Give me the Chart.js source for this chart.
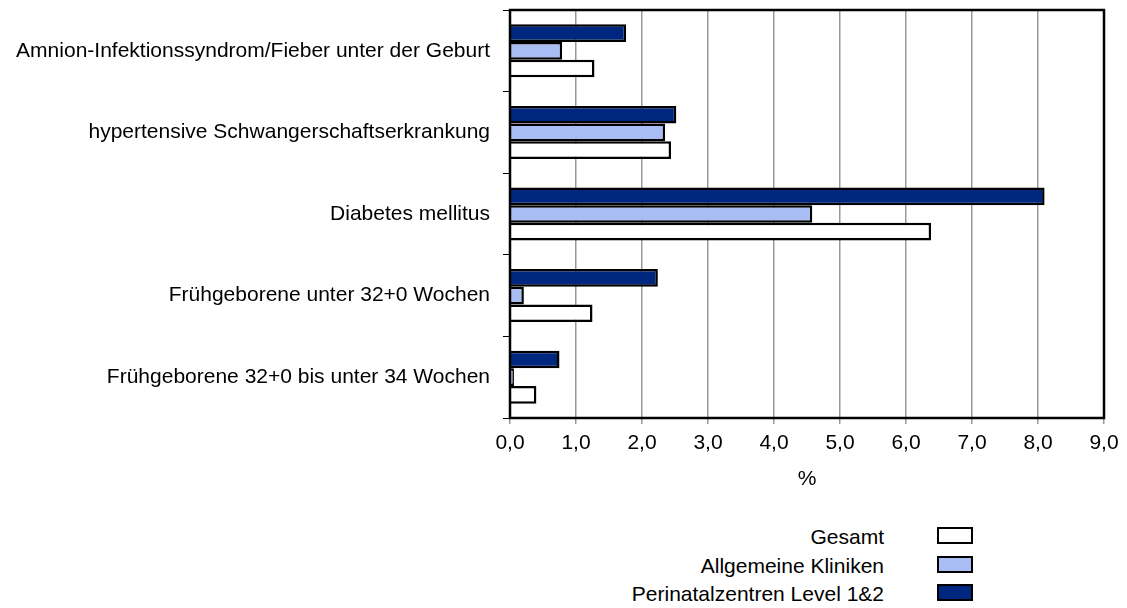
<!DOCTYPE html>
<html>
<head>
<meta charset="utf-8">
<script src="https://cdn.jsdelivr.net/npm/chart.js@4.4.0/dist/chart.umd.min.js"></script>
<style>
body{margin:0;background:#fff;font-family:"Liberation Sans",Arial,sans-serif;}
#wrap{position:absolute;left:0;top:0;width:1127px;height:500px;}
#legende{position:absolute;left:0;top:525px;width:1127px;}
.item{position:relative;height:28.5px;}
.item span{position:absolute;right:243px;top:0;font-size:21px;line-height:24px;color:#000;white-space:nowrap;}
.item i{position:absolute;left:937px;top:2px;width:32px;height:13px;border:2px solid #000;}
</style>
</head>
<body>
<div id="wrap"><canvas id="grafico"></canvas></div>
<div id="legende"></div>
<script>
// ---------------- DADOS ----------------
const kategorien = [
"Amnion-Infektionssyndrom/Fieber unter der Geburt",
"hypertensive Schwangerschaftserkrankung",
"Diabetes mellitus",
"Frühgeborene unter 32+0 Wochen",
"Frühgeborene 32+0 bis unter 34 Wochen"
]
const perinatal = [1.76, 2.52, 8.10, 2.24, 0.75]
const allgemein = [0.79, 2.35, 4.58, 0.21, 0.06]
const gesamt = [1.28, 2.44, 6.38, 1.25, 0.40]
const xTicks = [0,1,2,3,4,5,6,7,8,9]

const serien = [
{label:"Perinatalzentren Level 1&2", data:perinatal, farbe:"#00277F"},
{label:"Allgemeine Kliniken", data:allgemein, farbe:"#A8BDF3"},
{label:"Gesamt", data:gesamt, farbe:"#FFFFFF"}
]

// ---------------- LEGENDE ----------------
const legende = document.getElementById("legende")
serien.slice().reverse().forEach(s => {
const d = document.createElement("div")
d.className = "item"
d.innerHTML = `<span>${s.label}</span><i style="background:${s.farbe}"></i>`
legende.appendChild(d)
})

// ---------------- RAHMEN ----------------
const rahmen = {
id:"rahmen",
afterDatasetsDraw(chart){
const a = chart.chartArea
const ctx = chart.ctx
ctx.save()
ctx.strokeStyle = "#000"
ctx.lineWidth = 2.5
ctx.strokeRect(a.left, a.top, a.right - a.left, a.bottom - a.top)
ctx.restore()
}
}

Chart.defaults.font.family = "'Liberation Sans', Arial, sans-serif"
Chart.defaults.font.size = 21
Chart.defaults.color = "#000"

// ---------------- GRAFICO ----------------
new Chart(document.getElementById("grafico"),{
type:"bar",
data:{
labels:kategorien,
datasets:serien.map(s => ({
label:s.label,
data:s.data,
backgroundColor:s.farbe,
borderColor:"#000",
borderWidth:2.5,
categoryPercentage:0.65,
barPercentage:1
}))
},
options:{
indexAxis:"y",
responsive:true,
maintainAspectRatio:false,
animation:false,
layout:{padding:{top:10,right:23,left:0,bottom:0}},
plugins:{legend:{display:false},tooltip:{enabled:false}},
scales:{
x:{
min:0,max:9,
afterBuildTicks(s){ s.ticks = xTicks.map(v => ({value:v})) },
ticks:{callback:v => v.toFixed(1).replace(".",","), padding:7},
grid:{color:"#999",lineWidth:1.5,tickLength:6,tickColor:"#999"},
border:{display:false},
title:{display:true,text:"%",padding:{top:4,bottom:8}},
afterFit(s){ s.height = 82 }
},
y:{
grid:{offset:true,drawOnChartArea:false,tickLength:7,tickColor:"#000"},
border:{display:false},
ticks:{padding:13},
afterFit(s){ s.width = 510; s.paddingTop = 0; s.paddingBottom = 0 }
}
}
},
plugins:[rahmen]
})
</script>
</body>
</html>
